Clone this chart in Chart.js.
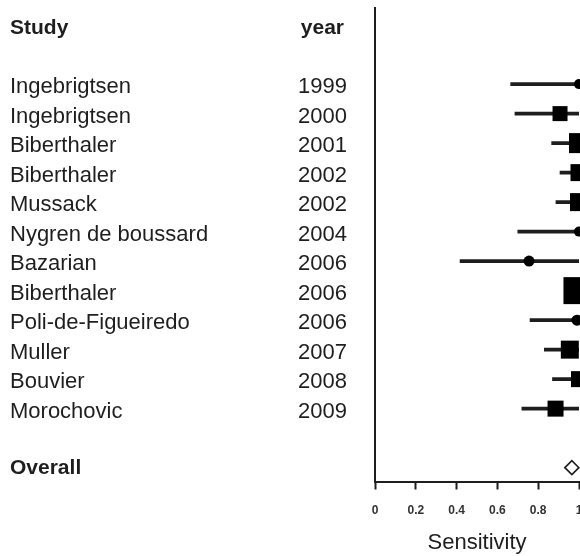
<!DOCTYPE html>
<html>
<head>
<meta charset="utf-8">
<script src="https://cdn.jsdelivr.net/npm/chart.js@4"></script>
<style>
  html, body { margin: 0; padding: 0; background: #fff; overflow: hidden; }
  #wrap { width: 580px; height: 556px; }
</style>
</head>
<body>
<div id="wrap"><canvas id="forest" width="580" height="556"></canvas></div>
<script>
// study rows, top to bottom
const studies = ["Ingebrigtsen", "Ingebrigtsen", "Biberthaler", "Biberthaler", "Mussack",
  "Nygren de boussard", "Bazarian", "Biberthaler", "Poli-de-Figueiredo", "Muller",
  "Bouvier", "Morochovic"];
const years = ["1999", "2000", "2001", "2002", "2002", "2004", "2006", "2006", "2006",
  "2007", "2008", "2009"];
const sensitivity = [1.0, 0.907, 1.0, 1.0, 1.0, 1.0, 0.755, 0.99, 0.99, 0.955, 1.0, 0.885];
const ciLower = [0.665, 0.686, 0.866, 0.907, 0.887, 0.70, 0.417, 0.95, 0.76, 0.83, 0.87, 0.72];
const ciUpper = [1.0, 1.0, 1.0, 1.0, 1.0, 1.0, 1.0, 1.0, 1.0, 1.0, 1.0, 1.0];
const overall = 0.965;
const xTicks = [0, 0.2, 0.4, 0.6, 0.8, 1];

// marker look per study (circle / square, side in px)
const markerShape = ["circle", "rect", "rect", "rect", "rect", "circle", "circle", "rect",
  "circle", "rect", "rect", "rect"];
const markerSide = [10, 15, 20, 17, 18, 10, 11, 27, 11, 18, 16, 16];

const ink = "#1e1e1e";
const overallRow = studies.length + 1;

// left hand text columns, aligned to the rows of the y scale
const labelColumns = {
  id: "labelColumns",
  afterDraw(chart) {
    const ctx = chart.ctx;
    const y = chart.scales.y;
    ctx.save();
    ctx.fillStyle = ink;
    ctx.textBaseline = "middle";

    ctx.font = "bold 21px 'Liberation Sans', Arial, sans-serif";
    ctx.textAlign = "left";
    ctx.fillText("Study", 10, y.getPixelForValue(-2) + 3);
    ctx.fillText("Overall", 10, y.getPixelForValue(overallRow) + 1);
    ctx.textAlign = "right";
    ctx.fillText("year", 344, y.getPixelForValue(-2) + 3);

    ctx.font = "22px 'Liberation Sans', Arial, sans-serif";
    studies.forEach((name, i) => {
      const py = y.getPixelForValue(i) + 3;
      ctx.textAlign = "left";
      ctx.fillText(name, 10, py);
      ctx.textAlign = "right";
      ctx.fillText(years[i], 347, py);
    });
    ctx.restore();
  }
};

new Chart(document.getElementById("forest"), {
  type: "scatter",
  data: {
    datasets: [
      {
        type: "scatter",
        label: "estimate",
        data: sensitivity.map((v, i) => ({ x: v, y: i })),
        pointStyle: markerShape,
        pointRadius: markerShape.map((s, i) => s === "circle" ? markerSide[i] / 2 : markerSide[i] / Math.SQRT2),
        backgroundColor: "#000",
        borderColor: "#000",
        borderWidth: 0,
        clip: false,
        order: 1
      },
      {
        type: "scatter",
        label: "overall",
        data: [{ x: overall, y: overallRow }],
        pointStyle: "rectRot",
        pointRadius: 7,
        backgroundColor: "#fff",
        borderColor: ink,
        borderWidth: 1.6,
        clip: false,
        order: 0
      },
      {
        type: "bar",
        label: "95% CI",
        indexAxis: "y",
        data: ciLower.map((lo, i) => ({ x: [lo, ciUpper[i]], y: i })),
        backgroundColor: ink,
        barThickness: 3,
        order: 2
      }
    ]
  },
  options: {
    responsive: false,
    animation: false,
    layout: { autoPadding: false, padding: { top: 8, right: 1, left: 0, bottom: 0 } },
    plugins: {
      legend: { display: false },
      tooltip: { enabled: false }
    },
    scales: {
      x: {
        type: "linear",
        position: "bottom",
        min: 0,
        max: 1,
        offset: false,
        afterBuildTicks: (axis) => { axis.ticks = xTicks.map(v => ({ value: v })); },
        afterFit: (axis) => {
          axis.height = 74.5;
          axis.paddingLeft = 0;
          axis.paddingRight = 0;
        },
        grid: {
          offset: false,
          drawOnChartArea: false,
          drawTicks: true,
          tickLength: 8,
          tickWidth: 2,
          tickColor: ink
        },
        border: { display: true, color: ink, width: 2 },
        ticks: {
          padding: 14,
          color: "#333",
          callback: (v) => String(v),
          font: { family: "'Liberation Sans', Arial, sans-serif", size: 12, weight: "bold" }
        },
        title: {
          display: true,
          text: "Sensitivity",
          color: ink,
          padding: { top: 0, bottom: 0 },
          font: { family: "'Liberation Sans', Arial, sans-serif", size: 22 }
        }
      },
      y: {
        type: "linear",
        reverse: true,
        min: -2.58,
        max: 13.47,
        offset: false,
        afterFit: (axis) => {
          axis.width = 375;
          axis.paddingTop = 0;
          axis.paddingBottom = 0;
        },
        grid: { display: false, offset: false },
        border: { display: true, color: ink, width: 2 },
        ticks: { display: false }
      }
    }
  },
  plugins: [labelColumns]
});
</script>
</body>
</html>
